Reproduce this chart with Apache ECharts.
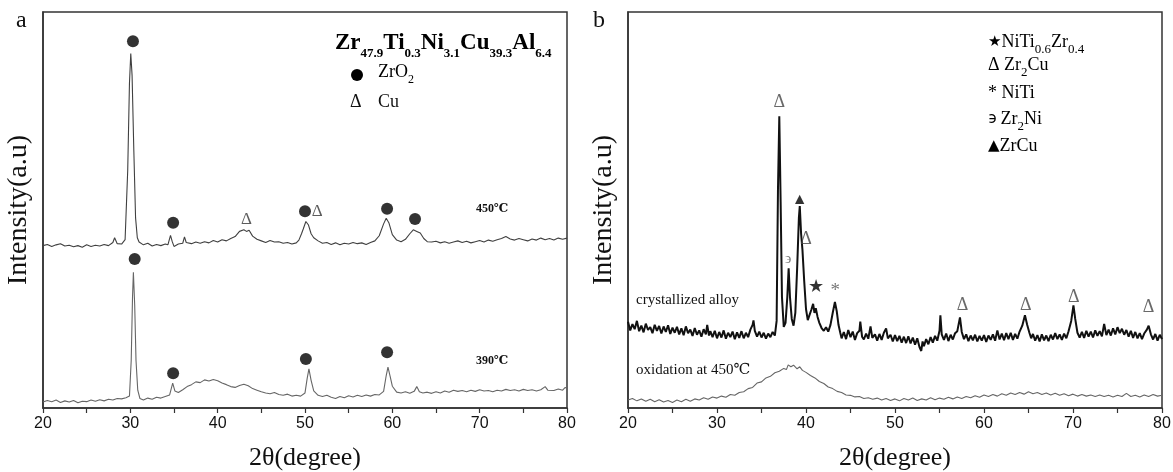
<!DOCTYPE html>
<html>
<head>
<meta charset="utf-8">
<script src="https://cdn.jsdelivr.net/npm/echarts@6/dist/echarts.min.js"></script>
<style>
  html, body { margin: 0; padding: 0; background: #fff; }
  #chart { width: 1173px; height: 472px; }
</style>
</head>
<body>
<div id="chart"></div>
<script>
// x = 2theta (degree), y = intensity (arbitrary units, 0..100 over the frame height)
const X_TICKS = [20, 30, 40, 50, 60, 70, 80];

// panel a: 450 C oxidized
const curve450 = [
  [20,41.0],[20.5,41.3],[21,40.8],[21.5,41.2],[22,41.5],[22.5,40.9],[23,41.1],[23.5,40.7],[24,41.0],[24.5,40.6],
  [25,41.2],[25.5,40.8],[26,41.1],[26.5,40.9],[27,41.3],[27.5,41.0],[28,41.8],[28.2,43.0],[28.5,41.5],[29,41.4],
  [29.4,42.5],[29.7,60],[29.9,82],[30.05,89.5],[30.2,84],[30.4,65],[30.6,48],[30.8,43],[31,41.9],[31.5,41.2],
  [32,41.6],[32.5,40.9],[33,41.3],[33.5,41.0],[34,41.4],[34.3,41.2],[34.6,43.6],[34.8,42.0],[35,40.8],[35.5,41.4],
  [36,41.6],[36.2,43.2],[36.4,41.8],[37,41.5],[37.5,41.9],[38,41.6],[38.5,42.0],[39,41.7],[39.5,42.3],[40,41.9],
  [40.5,42.5],[41,42.2],[41.5,42.8],[42,43.3],[42.5,44.6],[43,45.0],[43.3,44.6],[43.6,44.9],[44,43.4],[44.5,42.6],
  [45,42.2],[45.5,41.8],[46,42.3],[46.5,41.9],[47,42.0],[47.5,41.6],[48,41.8],[48.5,41.4],[49,41.7],[49.3,42.4],
  [49.6,44.0],[49.8,45.2],[50.1,47.1],[50.4,46.2],[50.7,44.0],[51,43.0],[51.5,42.2],[52,41.6],[52.5,41.8],[53,41.3],
  [53.5,41.7],[54,41.2],[54.5,41.6],[55,41.4],[55.5,41.8],[56,41.5],[56.5,41.7],[57,41.3],[57.5,41.8],[58,42.2],
  [58.5,43.5],[59,46.5],[59.3,47.9],[59.6,46.8],[60,43.8],[60.5,42.4],[61,42.0],[61.5,42.6],[62,44.0],[62.4,45.0],
  [62.8,44.6],[63.2,44.2],[63.6,42.8],[64,42.0],[64.5,41.9],[65,42.1],[65.5,41.7],[66,42.0],[66.5,41.6],[67,41.9],
  [67.5,42.2],[68,41.8],[68.5,42.1],[69,41.7],[69.5,42.0],[70,42.3],[70.5,41.9],[71,42.4],[71.5,42.1],[72,42.5],
  [72.5,42.8],[73,43.3],[73.5,42.7],[74,42.4],[74.5,42.8],[75,42.5],[75.5,42.2],[76,42.7],[76.5,42.4],[77,42.9],
  [77.5,42.5],[78,42.8],[78.5,42.4],[79,42.9],[79.5,42.6],[80,42.9],
];

// panel a: 390 C oxidized
const curve390 = [
  [20,1.5],[20.5,1.9],[21,1.6],[21.5,2.0],[22,1.4],[22.5,1.8],[23,1.5],[23.5,1.9],[24,1.3],[24.5,1.7],
  [25,1.6],[25.5,2.0],[26,1.7],[26.5,2.1],[27,1.8],[27.5,2.2],[28,2.0],[28.5,2.4],[29,2.3],[29.5,2.6],
  [29.9,3.0],[30.1,12],[30.25,28],[30.35,34.3],[30.5,26],[30.65,12],[30.85,4.5],[31.1,2.4],[31.5,2.0],[32,2.5],
  [32.5,2.2],[33,2.7],[33.5,2.5],[34,2.9],[34.5,3.3],[34.85,6.3],[35.1,4.3],[35.5,3.9],[36,4.6],[36.5,5.4],
  [37,5.9],[37.5,6.6],[38,6.4],[38.5,7.1],[39,6.8],[39.5,7.2],[40,6.9],[40.5,6.3],[41,5.9],[41.5,5.4],
  [42,5.2],[42.5,5.7],[43,6.0],[43.5,5.6],[44,4.9],[44.5,4.5],[45,4.1],[45.5,3.8],[46,3.6],[46.5,3.9],
  [47,3.4],[47.5,3.2],[48,3.5],[48.5,3.0],[49,3.2],[49.5,3.0],[50,3.8],[50.25,7.5],[50.45,9.9],[50.7,7.0],
  [51,4.3],[51.5,3.2],[52,2.9],[52.5,3.2],[53,2.7],[53.5,2.4],[54,2.9],[54.5,2.6],[55,3.1],[55.5,2.8],
  [56,3.2],[56.5,2.9],[57,3.3],[57.5,3.0],[58,3.4],[58.5,3.3],[59,4.2],[59.3,8.2],[59.5,10.3],[59.75,8.0],
  [60,5.5],[60.5,4.0],[61,3.8],[61.5,4.1],[62,3.7],[62.5,4.2],[62.8,5.4],[63.1,4.1],[63.5,3.8],[64,4.0],
  [64.5,3.7],[65,4.1],[65.5,3.8],[66,4.3],[66.5,4.0],[67,4.5],[67.5,4.2],[68,4.4],[68.5,4.1],[69,4.5],
  [69.5,4.2],[70,4.6],[70.5,4.3],[71,4.4],[71.5,4.1],[72,4.5],[72.5,4.3],[73,4.7],[73.5,4.4],[74,4.6],
  [74.5,4.3],[75,4.7],[75.5,4.4],[76,4.6],[76.5,4.3],[77,4.6],[77.5,5.4],[77.8,4.5],[78,4.7],[78.5,4.4],
  [79,4.8],[79.5,4.5],[79.8,5.2],[80,4.9],
];

const zrO2Marks = [[30.3,92.6],[34.9,46.8],[50.0,49.7],[59.4,50.3],[62.6,47.7],[30.5,37.6],[34.9,8.8],[50.1,12.4],[59.4,14.1]];
const cuMarks = [[43.3,47.5],[51.4,49.6]];

// panel b: crystallized alloy
const curveCryst = [
  [20,21.8],[20.25,19.6],[20.5,21.2],[20.75,19.9],[21,22.0],[21.25,19.4],[21.5,20.8],[21.75,19.1],[22,21.3],[22.25,19.7],
  [22.5,20.4],[22.75,18.9],[23,21.0],[23.25,19.5],[23.5,20.7],[23.75,18.8],[24,20.6],[24.25,19.2],[24.5,20.9],[24.75,18.7],
  [25,20.3],[25.25,19.0],[25.5,20.5],[25.75,18.6],[26,20.1],[26.25,18.4],[26.5,20.6],[26.75,18.9],[27,19.8],[27.25,18.2],
  [27.5,20.2],[27.75,18.5],[28,19.6],[28.25,18.0],[28.5,19.9],[28.75,18.6],[28.9,21.0],[29.1,18.3],[29.25,19.4],[29.5,17.9],
  [29.75,19.5],[30,17.6],[30.25,19.2],[30.5,17.8],[30.75,19.6],[31,17.5],[31.25,19.0],[31.5,17.9],[31.75,19.3],[32,17.4],
  [32.25,19.1],[32.5,17.7],[32.75,19.4],[33,17.6],[33.25,19.0],[33.5,17.9],[33.75,19.8],[34,21.0],[34.1,22.1],[34.25,19.5],
  [34.5,18.0],[34.75,19.3],[35,17.8],[35.25,19.0],[35.5,17.5],[35.75,18.8],[36,17.9],[36.25,19.2],[36.5,18.3],[36.7,22.0],
  [36.85,55],[37.0,73.7],[37.15,52],[37.3,28],[37.5,20.5],[37.7,21.5],[37.9,28],[38.05,35.3],[38.2,28],[38.4,22.5],
  [38.6,20.8],[38.8,24],[39.0,35],[39.2,48],[39.3,51.0],[39.45,44],[39.6,40.0],[39.8,32],[40.0,25.0],[40.2,22.2],
  [40.4,23.5],[40.6,24.8],[40.8,26.3],[40.95,24.0],[41.1,25.2],[41.3,23.0],[41.5,21.5],[41.75,20.2],[42,19.5],[42.25,20.4],
  [42.5,19.3],[42.75,21.0],[43.0,24.0],[43.25,26.8],[43.45,24.5],[43.65,21.0],[43.85,19.0],[44.0,17.6],[44.25,19.2],[44.5,17.4],
  [44.75,19.7],[45,17.9],[45.25,19.3],[45.5,17.2],[45.75,18.9],[46.0,19.5],[46.1,21.8],[46.3,18.0],[46.5,17.3],[46.75,18.8],
  [47.0,17.5],[47.25,20.6],[47.45,17.7],[47.75,18.6],[48.0,17.0],[48.25,18.7],[48.5,17.2],[48.75,19.0],[49.0,20.1],[49.2,17.6],
  [49.5,18.5],[49.75,16.8],[50.0,18.4],[50.25,16.9],[50.5,18.2],[50.75,16.5],[51.0,18.0],[51.25,16.4],[51.5,18.1],[51.75,16.3],
  [52.0,17.8],[52.25,16.0],[52.5,17.6],[52.75,15.4],[52.95,14.4],[53.1,16.8],[53.25,15.6],[53.5,17.4],[53.75,16.1],[54.0,17.9],
  [54.25,16.5],[54.5,18.2],[54.75,17.0],[55.0,19.5],[55.1,23.4],[55.25,18.6],[55.5,17.2],[55.75,18.8],[56.0,16.9],[56.25,18.5],
  [56.5,17.3],[56.75,18.9],[57.0,19.4],[57.3,22.9],[57.5,19.2],[57.75,17.4],[58.0,18.6],[58.25,16.9],[58.5,18.3],[58.75,17.1],
  [59.0,18.5],[59.25,16.8],[59.5,18.2],[59.75,17.0],[60.0,18.4],[60.25,16.7],[60.5,18.3],[60.75,17.2],[61.0,18.6],[61.25,17.0],
  [61.5,19.6],[61.75,17.3],[62.0,18.8],[62.25,17.1],[62.5,18.9],[62.75,17.4],[63.0,19.0],[63.25,17.2],[63.5,18.7],[63.75,17.5],
  [64.0,19.3],[64.3,20.8],[64.6,23.4],[64.85,21.0],[65.1,19.0],[65.3,17.6],[65.5,18.7],[65.75,17.0],[66.0,18.4],[66.25,16.8],
  [66.5,18.6],[66.75,17.1],[67.0,18.3],[67.25,16.9],[67.5,18.5],[67.75,17.3],[68.0,18.9],[68.25,17.4],[68.5,18.6],[68.75,17.2],
  [69.0,18.8],[69.25,17.6],[69.5,19.4],[69.8,22.0],[70.05,25.9],[70.25,22.5],[70.5,19.0],[70.75,17.8],[71.0,19.2],[71.25,17.7],
  [71.5,19.5],[71.75,18.0],[72.0,19.3],[72.25,17.8],[72.5,19.6],[72.75,18.2],[73.0,19.4],[73.25,18.1],[73.5,21.2],[73.75,18.4],
  [74.0,19.8],[74.25,18.3],[74.5,20.1],[74.75,18.6],[75.0,20.4],[75.25,18.9],[75.5,20.0],[75.75,18.5],[76.0,19.7],[76.25,18.0],
  [76.5,19.5],[76.75,17.7],[77.0,19.2],[77.25,17.6],[77.5,18.9],[77.75,17.4],[78.0,18.8],[78.3,19.8],[78.5,20.8],[78.75,18.6],
  [79.0,17.3],[79.25,18.7],[79.5,17.0],[79.75,18.5],[80.0,17.4],
];

// panel b: oxidation at 450 C
const curveOxid = [
  [20,2.0],[20.5,2.4],[21,1.8],[21.5,2.3],[22,1.7],[22.5,2.2],[23,1.6],[23.5,2.1],[24,1.5],[24.5,1.9],
  [25,1.4],[25.5,2.0],[26,1.6],[26.5,2.2],[27,1.7],[27.5,2.3],[28,2.0],[28.5,2.6],[29,2.2],[29.5,2.8],
  [30,2.5],[30.5,3.0],[31,2.7],[31.5,3.4],[32,3.2],[32.5,3.9],[33,4.1],[33.5,4.9],[34,5.2],[34.5,6.3],
  [35,6.6],[35.5,7.6],[36,8.0],[36.5,8.9],[37,9.3],[37.5,10.0],[37.8,9.7],[38,10.9],[38.3,10.4],[38.6,10.8],
  [39,9.9],[39.3,10.4],[39.6,9.5],[40,9.0],[40.5,8.2],[41,7.6],[41.5,6.7],[42,6.2],[42.5,5.3],[43,4.9],
  [43.5,4.2],[44,3.9],[44.5,3.3],[45,3.2],[45.5,2.8],[46,2.9],[46.5,2.4],[47,2.6],[47.5,2.2],[48,2.5],
  [48.5,2.0],[49,2.4],[49.5,1.9],[50,2.3],[50.5,1.8],[51,2.4],[51.5,2.0],[52,2.5],[52.5,1.9],[53,2.3],
  [53.5,2.0],[54,2.6],[54.5,2.1],[55,2.5],[55.5,2.2],[56,2.7],[56.5,2.3],[57,2.8],[57.5,2.4],[58,2.9],
  [58.5,2.6],[59,3.1],[59.5,2.7],[60,3.3],[60.5,2.9],[61,3.4],[61.5,3.0],[62,3.6],[62.5,3.2],[63,3.8],
  [63.5,3.4],[64,3.9],[64.5,3.5],[65,4.1],[65.5,3.6],[66,3.9],[66.5,3.4],[67,3.8],[67.5,3.3],[68,3.7],
  [68.5,3.2],[69,3.6],[69.5,3.1],[70,3.5],[70.5,3.0],[71,3.4],[71.5,3.0],[72,3.3],[72.5,2.9],[73,3.3],
  [73.5,2.9],[74,3.2],[74.5,2.8],[75,3.2],[75.5,2.9],[76,3.7],[76.5,2.9],[77,3.2],[77.5,2.8],[78,3.3],
  [78.5,2.9],[79,3.4],[79.5,3.0],[80,3.2],
];

const zr2CuMarks = [[37.0,77.3],[40.0,42.7],[57.6,25.9],[64.7,25.9],[70.1,28.0],[78.5,25.5]];
const zrCuMarks = [[39.3,52.6]];
const zr2NiMarks = [[38.0,37.6]];
const niTiZrMarks = [[41.1,30.4]];
const niTiMarks = [[43.3,29.6]];

const SERIF = '"Liberation Serif", "DejaVu Serif", serif';
const SANS = '"Liberation Sans", Arial, sans-serif';

function xAxisFor(gridIndex) {
  return {
    gridIndex,
    type: 'value',
    min: X_TICKS[0],
    max: X_TICKS[X_TICKS.length - 1],
    interval: 10,
    name: '2θ(degree)',
    nameLocation: 'middle',
    nameGap: 37,
    nameTextStyle: { fontFamily: SERIF, fontSize: 26, color: '#111' },
    axisLine: { lineStyle: { color: '#333', width: 1.5 } },
    axisTick: { inside: false, length: 5, lineStyle: { color: '#333', width: 1.2 } },
    minorTick: { show: true, splitNumber: 2, length: 5, lineStyle: { color: '#333', width: 1.2 } },
    axisLabel: { fontFamily: SANS, fontSize: 16, color: '#111', margin: 8 },
    splitLine: { show: false },
  };
}

function yAxisFor(gridIndex) {
  return {
    gridIndex,
    type: 'value',
    min: 0,
    max: 100,
    name: 'Intensity(a.u)',
    nameLocation: 'middle',
    nameGap: 10,
    nameTextStyle: { fontFamily: SERIF, fontSize: 28, color: '#111' },
    axisLine: { show: true, lineStyle: { color: '#333', width: 1.5 } },
    axisTick: { show: false },
    axisLabel: { show: false },
    splitLine: { show: false },
  };
}

function lineSeries(idx, data, color, width) {
  return {
    type: 'line',
    xAxisIndex: idx,
    yAxisIndex: idx,
    data,
    showSymbol: false,
    silent: true,
    lineStyle: { color, width },
  };
}

function glyphSeries(idx, data, glyph, size, color) {
  return {
    type: 'scatter',
    xAxisIndex: idx,
    yAxisIndex: idx,
    data,
    symbolSize: 1,
    silent: true,
    z: 5,
    itemStyle: { color: 'rgba(0,0,0,0)' },
    label: { show: true, position: 'inside', formatter: glyph, fontFamily: SERIF, fontSize: size, color },
  };
}

function richText(left, top, text, rich) {
  return { type: 'text', left, top, style: { text, rich } };
}

const subA = {
  b: { fontFamily: SERIF, fontSize: 23, fontWeight: 'bold', color: '#000', padding: [0, 0, 5, 0], verticalAlign: 'bottom' },
  s: { fontFamily: SERIF, fontSize: 13, fontWeight: 'bold', color: '#000', verticalAlign: 'bottom' },
};
const regA = {
  n: { fontFamily: SERIF, fontSize: 18, color: '#111', padding: [0, 0, 5, 0], verticalAlign: 'bottom' },
  s: { fontFamily: SERIF, fontSize: 12, color: '#111', verticalAlign: 'bottom' },
};
const regB = {
  n: { fontFamily: SERIF, fontSize: 18, color: '#111', padding: [0, 0, 5, 0], verticalAlign: 'bottom' },
  s: { fontFamily: SERIF, fontSize: 13, color: '#111', verticalAlign: 'bottom' },
  g: { fontFamily: '"DejaVu Sans", sans-serif', fontSize: 15, color: '#111', padding: [0, 0, 6, 0], verticalAlign: 'bottom' },
};

function plainText(left, top, text, size, weight) {
  return {
    type: 'text', left, top,
    style: { text, fontFamily: SERIF, fontSize: size, fontWeight: weight || 'normal', fill: '#111' },
  };
}

const chart = echarts.init(document.getElementById('chart'), null, { renderer: 'canvas' });

chart.setOption({
  backgroundColor: '#fff',
  animation: false,
  grid: [
    { left: 43, right: 606, top: 12, bottom: 64, outerBoundsMode: 'none', show: true, borderColor: '#333', borderWidth: 1.5 },
    { left: 628, right: 11, top: 12, bottom: 64, outerBoundsMode: 'none', show: true, borderColor: '#333', borderWidth: 1.5 },
  ],
  xAxis: [xAxisFor(0), xAxisFor(1)],
  yAxis: [yAxisFor(0), yAxisFor(1)],
  series: [
    lineSeries(0, curve450, '#404040', 1.1),
    lineSeries(0, curve390, '#666', 1.1),
    {
      type: 'scatter', xAxisIndex: 0, yAxisIndex: 0, data: zrO2Marks,
      symbol: 'circle', symbolSize: 12, silent: true, z: 5, itemStyle: { color: '#000' },
    },
    glyphSeries(0, cuMarks, 'Δ', 17, '#333'),
    lineSeries(1, curveOxid, '#666', 1.1),
    lineSeries(1, curveCryst, '#111', 2),
    glyphSeries(1, zr2CuMarks, 'Δ', 18, '#444'),
    glyphSeries(1, zrCuMarks, '▲', 16, '#000'),
    glyphSeries(1, zr2NiMarks, '϶', 15, '#555'),
    glyphSeries(1, niTiZrMarks, '★', 18, '#000'),
    glyphSeries(1, niTiMarks, '*', 19, '#555'),
  ],
  graphic: [
    plainText(16, 9, 'a', 24),
    plainText(593, 9, 'b', 24),
    richText(335, 32, '{b|Zr}{s|47.9}{b|Ti}{s|0.3}{b|Ni}{s|3.1}{b|Cu}{s|39.3}{b|Al}{s|6.4}', subA),
    { type: 'circle', shape: { cx: 357, cy: 75, r: 6 }, style: { fill: '#000' } },
    richText(378, 63, '{n|ZrO}{s|2}', regA),
    plainText(350, 93, 'Δ', 18),
    plainText(378, 93, 'Cu', 18),
    plainText(476, 203, '450℃', 12, 'bold'),
    plainText(476, 355, '390℃', 12, 'bold'),
    richText(988, 33, '{g|★}{n|NiTi}{s|0.6}{n|Zr}{s|0.4}', regB),
    richText(988, 56, '{n|Δ Zr}{s|2}{n|Cu}', regB),
    richText(988, 84, '{n|* NiTi}', regB),
    richText(988, 110, '{g|϶} {n|Zr}{s|2}{n|Ni}', regB),
    richText(988, 137, '{g|▲}{n|ZrCu}', regB),
    plainText(636, 293, 'crystallized alloy', 15),
    plainText(636, 363, 'oxidation at 450℃', 15),
  ],
});
</script>
</body>
</html>
